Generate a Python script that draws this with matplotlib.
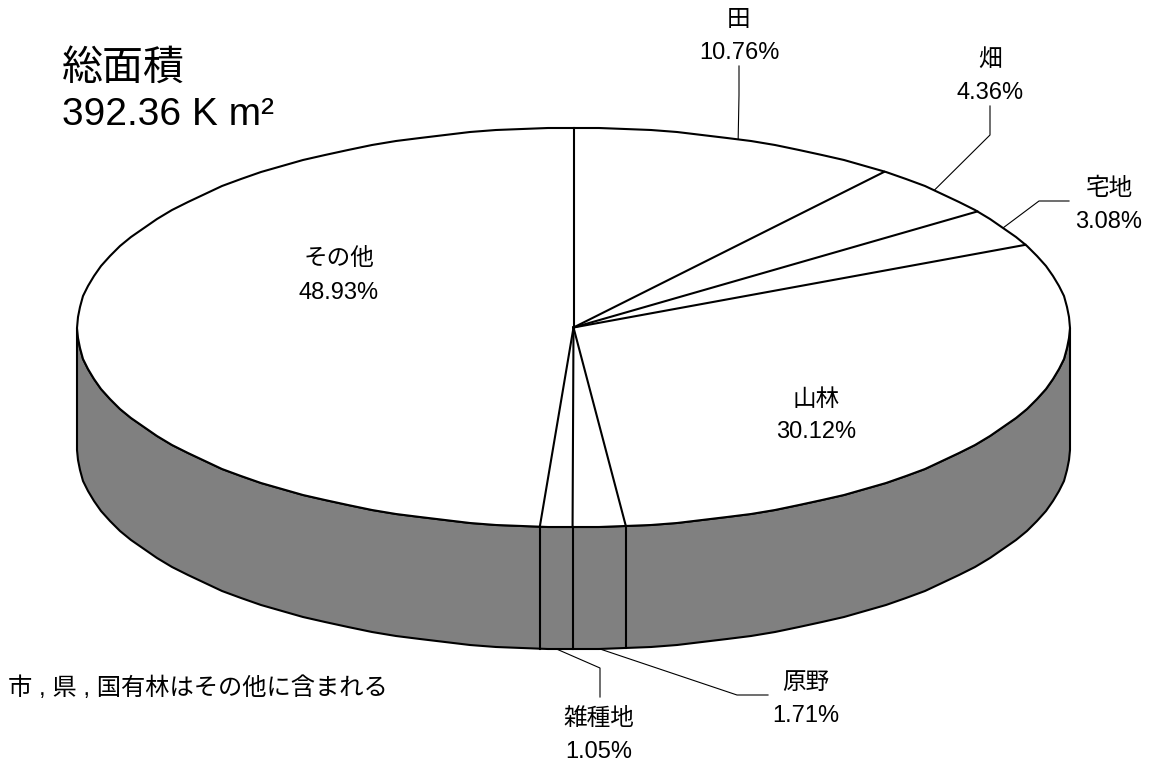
import numpy as np
import matplotlib
matplotlib.use('Agg')
import matplotlib.pyplot as plt

plt.rcParams['font.family'] = ['Liberation Sans', 'Noto Sans CJK JP', 'DejaVu Sans']

names = ['田', '畑', '宅地', '山林', '原野', '雑種地', 'その他']
percents = [10.76, 4.36, 3.08, 30.12, 1.71, 1.05, 48.93]
percent_labels = ['10.76%', '4.36%', '3.08%', '30.12%', '1.71%', '1.05%', '48.93%']
title_lines = ['総面積', '392.36 K m²']
note = '市 , 県 , 国有林はその他に含まれる'

# pie geometry, in pixels
cx, cy = 573.5, 327.5
rx, ry = 496.5, 199.5
depth = 122

# label centre x, name y, percent y, and the elbow of the leader (None = no leader)
label_pos = [
    (739, 20, 53, [(739, 66), (739, 95)]),
    (990, 60, 93, [(990, 106), (990, 135)]),
    (1109, 189, 222, [(1069, 201), (1039, 201)]),
    (816, 400, 432, None),
    (806, 683, 716, [(768, 695), (737, 695)]),
    (599, 719, 752, [(600, 697), (600, 668)]),
    (339, 259, 293, None),
]


def rim(pct, drop=0):
    # pct is percent clockwise from 12 o'clock, facets like the original
    a = np.asarray(pct) / 100 * 2 * np.pi
    return cx + rx * np.sin(a), cy - ry * np.cos(a) + drop


fig = plt.figure(figsize=(11.55, 7.67), dpi=100)
ax = fig.add_axes([0, 0, 1, 1])
ax.set_xlim(0, 1155)
ax.set_ylim(767, 0)
ax.axis('off')

outline = np.linspace(0, 100, 121)
ex, ey = rim(outline)
ex, ey = np.round(ex), np.round(ey)

# side wall, front half of the ellipse only
front = np.linspace(25, 75, 61)
fx, fy = rim(front)
fx, fy = np.round(fx), np.round(fy)
wall_x = np.concatenate([fx, fx[::-1]])
wall_y = np.concatenate([fy, fy[::-1] + depth])
ax.fill(wall_x, wall_y, facecolor='#808080', edgecolor='black', lw=1.5, zorder=1)

ax.fill(ex, ey, facecolor='white', edgecolor='black', lw=1.5, zorder=2)

edges = np.cumsum([0] + percents[:-1])
for e in edges:
    x, y = rim(e)
    ax.plot([cx, x], [cy, y], color='black', lw=1.5, zorder=3)
    if y > cy:
        ax.plot([x, x], [y, y + depth], color='black', lw=1.5, zorder=3)

mids = edges + np.array(percents) / 2
for i, (name, lab) in enumerate(zip(names, percent_labels)):
    lx, ny, py, elbow = label_pos[i]
    ax.text(lx, ny, name, fontsize=17, ha='center', va='center', color='black', zorder=5)
    ax.text(lx, py, lab, fontsize=17, ha='center', va='center', color='black', zorder=5)
    if elbow:
        mx, my = rim(mids[i], depth if mids[i] > 25 and mids[i] < 75 else 0)
        xs = [p[0] for p in elbow] + [mx]
        ys = [p[1] for p in elbow] + [my]
        ax.plot(xs, ys, color='black', lw=0.8, zorder=4)

ax.text(62, 69, title_lines[0], fontsize=29.5, ha='left', va='center')
ax.text(62, 115, title_lines[1], fontsize=28, ha='left', va='center')
ax.text(8, 688, note, fontsize=17.5, ha='left', va='center')

fig.savefig('out.png', dpi=100)
